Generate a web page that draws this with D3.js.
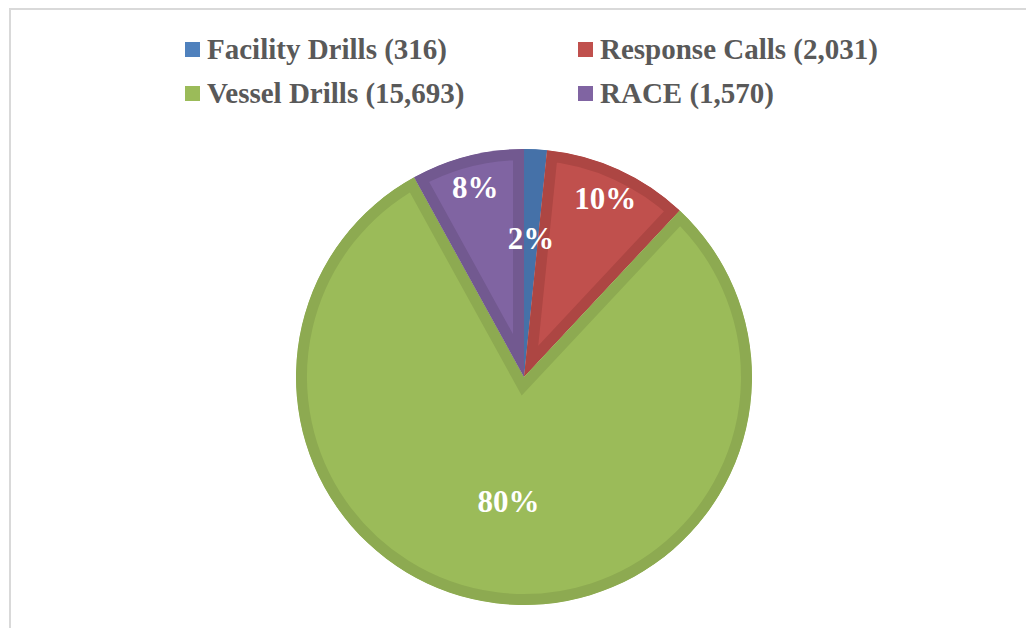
<!DOCTYPE html>
<html>
<head>
<meta charset="utf-8">
<script src="https://cdn.jsdelivr.net/npm/d3@7"></script>
<style>
  html, body { margin: 0; padding: 0; background: #fff; }
  svg { display: block; }
</style>
</head>
<body>
<svg id="chart" width="1026" height="628"></svg>
<script>
const categories = ["Facility Drills", "Response Calls", "Vessel Drills", "RACE"];
const counts = [316, 2031, 15693, 1570];
const fills = ["#4F81BD", "#C0504D", "#9BBB59", "#8064A2"];
const borders = ["#4571A8", "#AD4643", "#8DAA51", "#725990"];

const width = 1026;
const height = 628;
const cx = 524;
const cy = 377;
const radius = 228;
const serif = "'Liberation Serif', 'Times New Roman', serif";

const svg = d3.select("#chart");

// chart frame
svg.append("rect")
  .attr("x", 10)
  .attr("y", 9)
  .attr("width", width + 20)
  .attr("height", height + 20)
  .attr("fill", "#fff")
  .attr("stroke", "#d9d9d9")
  .attr("stroke-width", 2);

const data = categories.map((name, i) => ({
  name,
  value: counts[i],
  fill: fills[i],
  border: borders[i],
}));
const total = d3.sum(counts);

const pie = d3.pie().sort(null).value((d) => d.value);
const arc = d3.arc().innerRadius(0).outerRadius(radius);
const arcs = pie(data);

const g = svg.append("g").attr("transform", `translate(${cx},${cy})`);

// clip each slice to itself so the border sits inside it
const defs = svg.append("defs");
arcs.forEach((d, i) => {
  defs.append("clipPath")
    .attr("id", "slice-clip-" + i)
    .append("path")
    .attr("d", arc(d));
});

g.selectAll("path.slice")
  .data(arcs)
  .join("path")
  .attr("class", "slice")
  .attr("d", arc)
  .attr("fill", (d) => d.data.fill)
  .attr("stroke", (d) => d.data.border)
  .attr("stroke-width", 22)
  .attr("stroke-linejoin", "miter")
  .attr("stroke-miterlimit", 10)
  .attr("clip-path", (d, i) => `url(#slice-clip-${i})`);

// data labels
const fmt = d3.format(".0%");
const labelRadius = (d) => {
  const share = d.data.value / total;
  if (share > 0.5) return radius * 0.55;
  if (share < 0.03) return radius * 0.61;
  return radius * 0.86;
};

g.selectAll("text.label")
  .data(arcs)
  .join("text")
  .attr("class", "label")
  .attr("transform", (d) => {
    const r = labelRadius(d);
    const c = d3.arc().innerRadius(r).outerRadius(r).centroid(d);
    return `translate(${c[0]},${c[1]})`;
  })
  .attr("dy", "0.35em")
  .attr("text-anchor", "middle")
  .attr("fill", "#fff")
  .style("font-family", serif)
  .style("font-weight", "bold")
  .style("font-size", "31px")
  .text((d) => fmt(d.data.value / total));

// legend, two columns
const fmtCount = d3.format(",");
const legend = svg.append("g").attr("class", "legend");
const colX = [185, 578];
const rowY = [42, 86];

const item = legend.selectAll("g")
  .data(data)
  .join("g")
  .attr("transform", (d, i) => `translate(${colX[i % 2]},${rowY[Math.floor(i / 2)]})`);

item.append("rect")
  .attr("width", 15)
  .attr("height", 15)
  .attr("fill", (d) => d.fill);

item.append("text")
  .attr("x", 22)
  .attr("y", 17)
  .attr("fill", "#595959")
  .style("font-family", serif)
  .style("font-weight", "bold")
  .style("font-size", "29px")
  .text((d) => `${d.name} (${fmtCount(d.value)})`);
</script>
</body>
</html>
